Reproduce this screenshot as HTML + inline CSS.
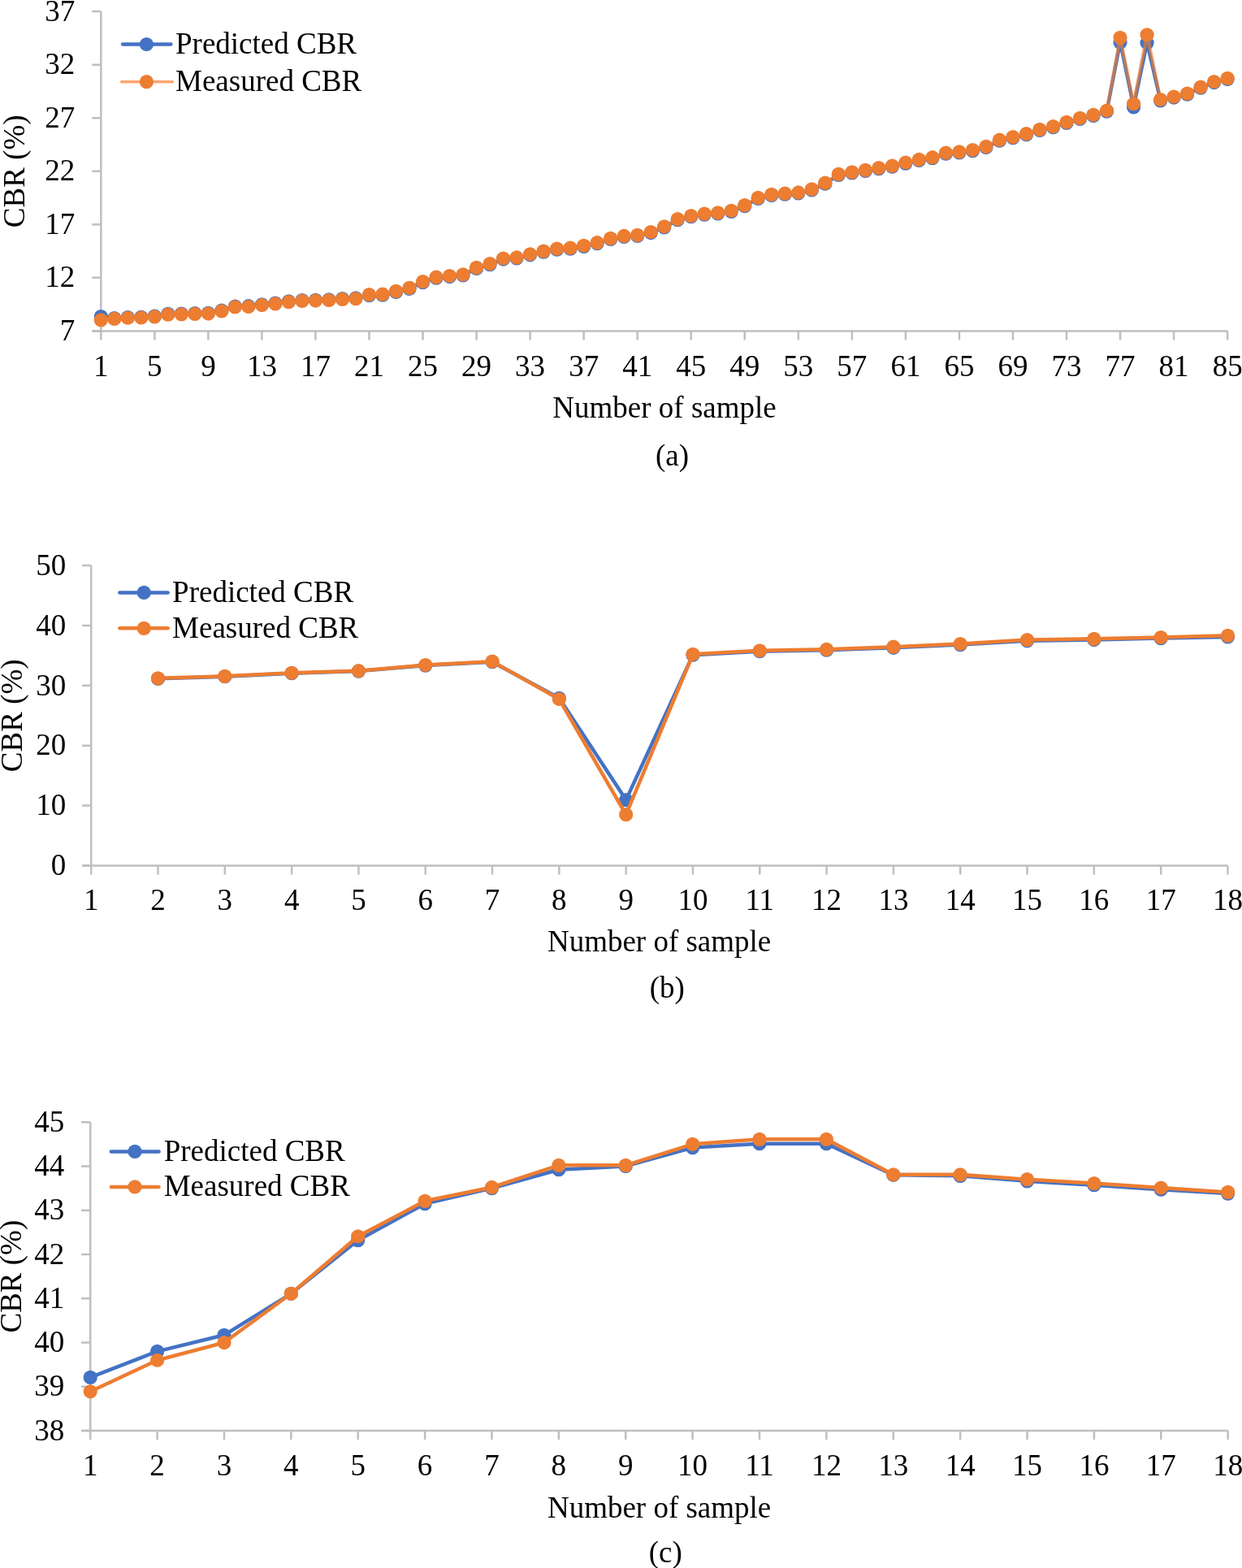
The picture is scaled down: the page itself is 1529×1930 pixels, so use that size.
<!DOCTYPE html>
<html><head><meta charset="utf-8"><title>CBR charts</title>
<style>html,body{margin:0;padding:0;background:#fff;}svg{display:block;}</style>
</head><body>
<svg width="1529" height="1930" viewBox="0 0 1529 1930">
<rect width="1529" height="1930" fill="#fff"/>
<g stroke="#BFBFBF" stroke-width="2.5" fill="none">
<path d="M124.3 14.1V407.4M113.3 407.4H1511.14"/>
<path d="M113.3 407.4H124.3M113.3 341.85H124.3M113.3 276.3H124.3M113.3 210.75H124.3M113.3 145.2H124.3M113.3 79.65H124.3M113.3 14.1H124.3M124.3 407.4V418.4M190.34 407.4V418.4M256.38 407.4V418.4M322.42 407.4V418.4M388.46 407.4V418.4M454.5 407.4V418.4M520.54 407.4V418.4M586.58 407.4V418.4M652.62 407.4V418.4M718.66 407.4V418.4M784.7 407.4V418.4M850.74 407.4V418.4M916.78 407.4V418.4M982.82 407.4V418.4M1048.86 407.4V418.4M1114.9 407.4V418.4M1180.94 407.4V418.4M1246.98 407.4V418.4M1313.02 407.4V418.4M1379.06 407.4V418.4M1445.1 407.4V418.4M1511.14 407.4V418.4"/>
</g>
<g font-family="'Liberation Serif','Times New Roman',serif" font-size="37" fill="#000">
<text x="92.3" y="418.9" text-anchor="end">7</text>
<text x="92.3" y="353.35" text-anchor="end">12</text>
<text x="92.3" y="287.8" text-anchor="end">17</text>
<text x="92.3" y="222.25" text-anchor="end">22</text>
<text x="92.3" y="156.7" text-anchor="end">27</text>
<text x="92.3" y="91.15" text-anchor="end">32</text>
<text x="92.3" y="25.6" text-anchor="end">37</text>
<text x="124.3" y="462.5" text-anchor="middle">1</text>
<text x="190.34" y="462.5" text-anchor="middle">5</text>
<text x="256.38" y="462.5" text-anchor="middle">9</text>
<text x="322.42" y="462.5" text-anchor="middle">13</text>
<text x="388.46" y="462.5" text-anchor="middle">17</text>
<text x="454.5" y="462.5" text-anchor="middle">21</text>
<text x="520.54" y="462.5" text-anchor="middle">25</text>
<text x="586.58" y="462.5" text-anchor="middle">29</text>
<text x="652.62" y="462.5" text-anchor="middle">33</text>
<text x="718.66" y="462.5" text-anchor="middle">37</text>
<text x="784.7" y="462.5" text-anchor="middle">41</text>
<text x="850.74" y="462.5" text-anchor="middle">45</text>
<text x="916.78" y="462.5" text-anchor="middle">49</text>
<text x="982.82" y="462.5" text-anchor="middle">53</text>
<text x="1048.86" y="462.5" text-anchor="middle">57</text>
<text x="1114.9" y="462.5" text-anchor="middle">61</text>
<text x="1180.94" y="462.5" text-anchor="middle">65</text>
<text x="1246.98" y="462.5" text-anchor="middle">69</text>
<text x="1313.02" y="462.5" text-anchor="middle">73</text>
<text x="1379.06" y="462.5" text-anchor="middle">77</text>
<text x="1445.1" y="462.5" text-anchor="middle">81</text>
<text x="1511.14" y="462.5" text-anchor="middle">85</text>
<text x="818" y="514" text-anchor="middle">Number of sample</text>
<text x="827.5" y="573.2" text-anchor="middle">(a)</text>
<text transform="translate(30.3 210.75) rotate(-90)" text-anchor="middle">CBR (%)</text>
</g>
<path d="M124.3 389.57 L140.81 391.67 L157.32 390.49 L173.83 390.23 L190.34 389.18 L206.85 386.42 L223.36 386.03 L239.87 385.64 L256.38 385.24 L272.89 382.1 L289.4 377.12 L305.91 376.72 L322.42 374.76 L338.93 373.18 L355.44 370.82 L371.95 369.51 L388.46 369.25 L404.97 368.73 L421.48 367.55 L437.99 366.76 L454.5 363.61 L471.01 363.22 L487.52 359.42 L504.03 355.35 L520.54 347.62 L537.05 342.24 L553.56 340.54 L570.07 338.97 L586.58 330.44 L603.09 325.59 L619.6 319.04 L636.11 317.99 L652.62 313.79 L669.13 310.12 L685.64 307.24 L702.15 306.19 L718.66 303.31 L735.17 299.64 L751.68 294.39 L768.19 291.51 L784.7 290.46 L801.21 286.53 L817.72 279.84 L834.23 270.66 L850.74 266.6 L867.25 264.11 L883.76 262.93 L900.27 260.31 L916.78 253.75 L933.29 244.44 L949.8 240.38 L966.31 239.2 L982.82 238.02 L999.33 233.95 L1015.84 226.22 L1032.35 215.47 L1048.86 212.98 L1065.37 210.49 L1081.88 207.6 L1098.39 205.11 L1114.9 201.05 L1131.41 197.38 L1147.92 194.76 L1164.43 189.25 L1180.94 187.94 L1197.45 185.58 L1213.96 181.38 L1230.47 173.26 L1246.98 169.72 L1263.49 165.65 L1280 160.41 L1296.51 156.74 L1313.02 151.36 L1329.53 146.38 L1346.04 142.32 L1362.55 137.07 L1379.06 52.12 L1395.57 131.83 L1412.08 52.77 L1428.59 123.96 L1445.1 120.03 L1461.61 116.23 L1478.12 108.1 L1494.63 101.54 L1511.14 97.35" fill="none" stroke="#4472C4" stroke-width="4.3" stroke-linejoin="round" stroke-linecap="round"/>
<g fill="#4472C4">
<circle cx="124.3" cy="389.57" r="8.6"/>
<circle cx="140.81" cy="391.67" r="8.6"/>
<circle cx="157.32" cy="390.49" r="8.6"/>
<circle cx="173.83" cy="390.23" r="8.6"/>
<circle cx="190.34" cy="389.18" r="8.6"/>
<circle cx="206.85" cy="386.42" r="8.6"/>
<circle cx="223.36" cy="386.03" r="8.6"/>
<circle cx="239.87" cy="385.64" r="8.6"/>
<circle cx="256.38" cy="385.24" r="8.6"/>
<circle cx="272.89" cy="382.1" r="8.6"/>
<circle cx="289.4" cy="377.12" r="8.6"/>
<circle cx="305.91" cy="376.72" r="8.6"/>
<circle cx="322.42" cy="374.76" r="8.6"/>
<circle cx="338.93" cy="373.18" r="8.6"/>
<circle cx="355.44" cy="370.82" r="8.6"/>
<circle cx="371.95" cy="369.51" r="8.6"/>
<circle cx="388.46" cy="369.25" r="8.6"/>
<circle cx="404.97" cy="368.73" r="8.6"/>
<circle cx="421.48" cy="367.55" r="8.6"/>
<circle cx="437.99" cy="366.76" r="8.6"/>
<circle cx="454.5" cy="363.61" r="8.6"/>
<circle cx="471.01" cy="363.22" r="8.6"/>
<circle cx="487.52" cy="359.42" r="8.6"/>
<circle cx="504.03" cy="355.35" r="8.6"/>
<circle cx="520.54" cy="347.62" r="8.6"/>
<circle cx="537.05" cy="342.24" r="8.6"/>
<circle cx="553.56" cy="340.54" r="8.6"/>
<circle cx="570.07" cy="338.97" r="8.6"/>
<circle cx="586.58" cy="330.44" r="8.6"/>
<circle cx="603.09" cy="325.59" r="8.6"/>
<circle cx="619.6" cy="319.04" r="8.6"/>
<circle cx="636.11" cy="317.99" r="8.6"/>
<circle cx="652.62" cy="313.79" r="8.6"/>
<circle cx="669.13" cy="310.12" r="8.6"/>
<circle cx="685.64" cy="307.24" r="8.6"/>
<circle cx="702.15" cy="306.19" r="8.6"/>
<circle cx="718.66" cy="303.31" r="8.6"/>
<circle cx="735.17" cy="299.64" r="8.6"/>
<circle cx="751.68" cy="294.39" r="8.6"/>
<circle cx="768.19" cy="291.51" r="8.6"/>
<circle cx="784.7" cy="290.46" r="8.6"/>
<circle cx="801.21" cy="286.53" r="8.6"/>
<circle cx="817.72" cy="279.84" r="8.6"/>
<circle cx="834.23" cy="270.66" r="8.6"/>
<circle cx="850.74" cy="266.6" r="8.6"/>
<circle cx="867.25" cy="264.11" r="8.6"/>
<circle cx="883.76" cy="262.93" r="8.6"/>
<circle cx="900.27" cy="260.31" r="8.6"/>
<circle cx="916.78" cy="253.75" r="8.6"/>
<circle cx="933.29" cy="244.44" r="8.6"/>
<circle cx="949.8" cy="240.38" r="8.6"/>
<circle cx="966.31" cy="239.2" r="8.6"/>
<circle cx="982.82" cy="238.02" r="8.6"/>
<circle cx="999.33" cy="233.95" r="8.6"/>
<circle cx="1015.84" cy="226.22" r="8.6"/>
<circle cx="1032.35" cy="215.47" r="8.6"/>
<circle cx="1048.86" cy="212.98" r="8.6"/>
<circle cx="1065.37" cy="210.49" r="8.6"/>
<circle cx="1081.88" cy="207.6" r="8.6"/>
<circle cx="1098.39" cy="205.11" r="8.6"/>
<circle cx="1114.9" cy="201.05" r="8.6"/>
<circle cx="1131.41" cy="197.38" r="8.6"/>
<circle cx="1147.92" cy="194.76" r="8.6"/>
<circle cx="1164.43" cy="189.25" r="8.6"/>
<circle cx="1180.94" cy="187.94" r="8.6"/>
<circle cx="1197.45" cy="185.58" r="8.6"/>
<circle cx="1213.96" cy="181.38" r="8.6"/>
<circle cx="1230.47" cy="173.26" r="8.6"/>
<circle cx="1246.98" cy="169.72" r="8.6"/>
<circle cx="1263.49" cy="165.65" r="8.6"/>
<circle cx="1280" cy="160.41" r="8.6"/>
<circle cx="1296.51" cy="156.74" r="8.6"/>
<circle cx="1313.02" cy="151.36" r="8.6"/>
<circle cx="1329.53" cy="146.38" r="8.6"/>
<circle cx="1346.04" cy="142.32" r="8.6"/>
<circle cx="1362.55" cy="137.07" r="8.6"/>
<circle cx="1379.06" cy="52.12" r="8.6"/>
<circle cx="1395.57" cy="131.83" r="8.6"/>
<circle cx="1412.08" cy="52.77" r="8.6"/>
<circle cx="1428.59" cy="123.96" r="8.6"/>
<circle cx="1445.1" cy="120.03" r="8.6"/>
<circle cx="1461.61" cy="116.23" r="8.6"/>
<circle cx="1478.12" cy="108.1" r="8.6"/>
<circle cx="1494.63" cy="101.54" r="8.6"/>
<circle cx="1511.14" cy="97.35" r="8.6"/>
</g>
<path d="M124.3 393.9 L140.81 392.45 L157.32 391.27 L173.83 391.01 L190.34 389.96 L206.85 387.21 L223.36 386.82 L239.87 386.42 L256.38 386.03 L272.89 382.88 L289.4 377.9 L305.91 377.51 L322.42 375.54 L338.93 373.97 L355.44 371.61 L371.95 370.3 L388.46 370.04 L404.97 369.51 L421.48 368.33 L437.99 367.55 L454.5 362.56 L471.01 362.17 L487.52 358.37 L504.03 354.3 L520.54 346.57 L537.05 341.19 L553.56 339.49 L570.07 337.92 L586.58 329.4 L603.09 324.54 L619.6 317.99 L636.11 316.94 L652.62 312.75 L669.13 309.07 L685.64 306.19 L702.15 305.14 L718.66 302.26 L735.17 298.59 L751.68 293.34 L768.19 290.46 L784.7 289.41 L801.21 285.48 L817.72 278.79 L834.23 269.61 L850.74 265.55 L867.25 263.06 L883.76 261.88 L900.27 259.26 L916.78 252.7 L933.29 243.39 L949.8 239.33 L966.31 238.15 L982.82 236.97 L999.33 232.91 L1015.84 225.17 L1032.35 214.42 L1048.86 211.93 L1065.37 209.44 L1081.88 206.55 L1098.39 204.06 L1114.9 200 L1131.41 196.33 L1147.92 193.71 L1164.43 188.2 L1180.94 186.89 L1197.45 184.53 L1213.96 180.33 L1230.47 172.21 L1246.98 168.67 L1263.49 164.6 L1280 159.36 L1296.51 155.69 L1313.02 150.31 L1329.53 145.33 L1346.04 141.27 L1362.55 136.02 L1379.06 46.35 L1395.57 127.76 L1412.08 42.81 L1428.59 122.52 L1445.1 118.98 L1461.61 115.18 L1478.12 107.05 L1494.63 100.49 L1511.14 96.3" fill="none" stroke="#ED7D31" stroke-width="4.3" stroke-linejoin="round" stroke-linecap="round" stroke-opacity="0.65"/>
<g fill="#ED7D31">
<circle cx="124.3" cy="393.9" r="8.6"/>
<circle cx="140.81" cy="392.45" r="8.6"/>
<circle cx="157.32" cy="391.27" r="8.6"/>
<circle cx="173.83" cy="391.01" r="8.6"/>
<circle cx="190.34" cy="389.96" r="8.6"/>
<circle cx="206.85" cy="387.21" r="8.6"/>
<circle cx="223.36" cy="386.82" r="8.6"/>
<circle cx="239.87" cy="386.42" r="8.6"/>
<circle cx="256.38" cy="386.03" r="8.6"/>
<circle cx="272.89" cy="382.88" r="8.6"/>
<circle cx="289.4" cy="377.9" r="8.6"/>
<circle cx="305.91" cy="377.51" r="8.6"/>
<circle cx="322.42" cy="375.54" r="8.6"/>
<circle cx="338.93" cy="373.97" r="8.6"/>
<circle cx="355.44" cy="371.61" r="8.6"/>
<circle cx="371.95" cy="370.3" r="8.6"/>
<circle cx="388.46" cy="370.04" r="8.6"/>
<circle cx="404.97" cy="369.51" r="8.6"/>
<circle cx="421.48" cy="368.33" r="8.6"/>
<circle cx="437.99" cy="367.55" r="8.6"/>
<circle cx="454.5" cy="362.56" r="8.6"/>
<circle cx="471.01" cy="362.17" r="8.6"/>
<circle cx="487.52" cy="358.37" r="8.6"/>
<circle cx="504.03" cy="354.3" r="8.6"/>
<circle cx="520.54" cy="346.57" r="8.6"/>
<circle cx="537.05" cy="341.19" r="8.6"/>
<circle cx="553.56" cy="339.49" r="8.6"/>
<circle cx="570.07" cy="337.92" r="8.6"/>
<circle cx="586.58" cy="329.4" r="8.6"/>
<circle cx="603.09" cy="324.54" r="8.6"/>
<circle cx="619.6" cy="317.99" r="8.6"/>
<circle cx="636.11" cy="316.94" r="8.6"/>
<circle cx="652.62" cy="312.75" r="8.6"/>
<circle cx="669.13" cy="309.07" r="8.6"/>
<circle cx="685.64" cy="306.19" r="8.6"/>
<circle cx="702.15" cy="305.14" r="8.6"/>
<circle cx="718.66" cy="302.26" r="8.6"/>
<circle cx="735.17" cy="298.59" r="8.6"/>
<circle cx="751.68" cy="293.34" r="8.6"/>
<circle cx="768.19" cy="290.46" r="8.6"/>
<circle cx="784.7" cy="289.41" r="8.6"/>
<circle cx="801.21" cy="285.48" r="8.6"/>
<circle cx="817.72" cy="278.79" r="8.6"/>
<circle cx="834.23" cy="269.61" r="8.6"/>
<circle cx="850.74" cy="265.55" r="8.6"/>
<circle cx="867.25" cy="263.06" r="8.6"/>
<circle cx="883.76" cy="261.88" r="8.6"/>
<circle cx="900.27" cy="259.26" r="8.6"/>
<circle cx="916.78" cy="252.7" r="8.6"/>
<circle cx="933.29" cy="243.39" r="8.6"/>
<circle cx="949.8" cy="239.33" r="8.6"/>
<circle cx="966.31" cy="238.15" r="8.6"/>
<circle cx="982.82" cy="236.97" r="8.6"/>
<circle cx="999.33" cy="232.91" r="8.6"/>
<circle cx="1015.84" cy="225.17" r="8.6"/>
<circle cx="1032.35" cy="214.42" r="8.6"/>
<circle cx="1048.86" cy="211.93" r="8.6"/>
<circle cx="1065.37" cy="209.44" r="8.6"/>
<circle cx="1081.88" cy="206.55" r="8.6"/>
<circle cx="1098.39" cy="204.06" r="8.6"/>
<circle cx="1114.9" cy="200" r="8.6"/>
<circle cx="1131.41" cy="196.33" r="8.6"/>
<circle cx="1147.92" cy="193.71" r="8.6"/>
<circle cx="1164.43" cy="188.2" r="8.6"/>
<circle cx="1180.94" cy="186.89" r="8.6"/>
<circle cx="1197.45" cy="184.53" r="8.6"/>
<circle cx="1213.96" cy="180.33" r="8.6"/>
<circle cx="1230.47" cy="172.21" r="8.6"/>
<circle cx="1246.98" cy="168.67" r="8.6"/>
<circle cx="1263.49" cy="164.6" r="8.6"/>
<circle cx="1280" cy="159.36" r="8.6"/>
<circle cx="1296.51" cy="155.69" r="8.6"/>
<circle cx="1313.02" cy="150.31" r="8.6"/>
<circle cx="1329.53" cy="145.33" r="8.6"/>
<circle cx="1346.04" cy="141.27" r="8.6"/>
<circle cx="1362.55" cy="136.02" r="8.6"/>
<circle cx="1379.06" cy="46.35" r="8.6"/>
<circle cx="1395.57" cy="127.76" r="8.6"/>
<circle cx="1412.08" cy="42.81" r="8.6"/>
<circle cx="1428.59" cy="122.52" r="8.6"/>
<circle cx="1445.1" cy="118.98" r="8.6"/>
<circle cx="1461.61" cy="115.18" r="8.6"/>
<circle cx="1478.12" cy="107.05" r="8.6"/>
<circle cx="1494.63" cy="100.49" r="8.6"/>
<circle cx="1511.14" cy="96.3" r="8.6"/>
</g>
<line x1="151" y1="54.5" x2="210.5" y2="54.5" stroke="#4472C4" stroke-width="4.3" stroke-linecap="round"/>
<circle cx="180.4" cy="54.5" r="8.6" fill="#4472C4"/>
<text x="216" y="65.7" font-family="'Liberation Serif','Times New Roman',serif" font-size="37">Predicted CBR</text>
<line x1="148.3" y1="102.5" x2="213.7" y2="102.5" stroke="#FFDCC6" stroke-width="1.6"/>
<line x1="148.3" y1="100.5" x2="213.7" y2="100.5" stroke="#FCA46E" stroke-width="3"/>
<circle cx="180.4" cy="100.6" r="8.6" fill="#ED7D31"/>
<text x="216" y="111.8" font-family="'Liberation Serif','Times New Roman',serif" font-size="37">Measured CBR</text>
<g stroke="#BFBFBF" stroke-width="2.5" fill="none">
<path d="M112.2 696.1V1065.4M101.2 1065.4H1511.47"/>
<path d="M101.2 1065.4H112.2M101.2 991.54H112.2M101.2 917.68H112.2M101.2 843.82H112.2M101.2 769.96H112.2M101.2 696.1H112.2M112.2 1065.4V1076.4M194.51 1065.4V1076.4M276.82 1065.4V1076.4M359.13 1065.4V1076.4M441.44 1065.4V1076.4M523.75 1065.4V1076.4M606.06 1065.4V1076.4M688.37 1065.4V1076.4M770.68 1065.4V1076.4M852.99 1065.4V1076.4M935.3 1065.4V1076.4M1017.61 1065.4V1076.4M1099.92 1065.4V1076.4M1182.23 1065.4V1076.4M1264.54 1065.4V1076.4M1346.85 1065.4V1076.4M1429.16 1065.4V1076.4M1511.47 1065.4V1076.4"/>
</g>
<g font-family="'Liberation Serif','Times New Roman',serif" font-size="37" fill="#000">
<text x="81.3" y="1077.2" text-anchor="end">0</text>
<text x="81.3" y="1003.34" text-anchor="end">10</text>
<text x="81.3" y="929.48" text-anchor="end">20</text>
<text x="81.3" y="855.62" text-anchor="end">30</text>
<text x="81.3" y="781.76" text-anchor="end">40</text>
<text x="81.3" y="707.9" text-anchor="end">50</text>
<text x="112.2" y="1120.2" text-anchor="middle">1</text>
<text x="194.51" y="1120.2" text-anchor="middle">2</text>
<text x="276.82" y="1120.2" text-anchor="middle">3</text>
<text x="359.13" y="1120.2" text-anchor="middle">4</text>
<text x="441.44" y="1120.2" text-anchor="middle">5</text>
<text x="523.75" y="1120.2" text-anchor="middle">6</text>
<text x="606.06" y="1120.2" text-anchor="middle">7</text>
<text x="688.37" y="1120.2" text-anchor="middle">8</text>
<text x="770.68" y="1120.2" text-anchor="middle">9</text>
<text x="852.99" y="1120.2" text-anchor="middle">10</text>
<text x="935.3" y="1120.2" text-anchor="middle">11</text>
<text x="1017.61" y="1120.2" text-anchor="middle">12</text>
<text x="1099.92" y="1120.2" text-anchor="middle">13</text>
<text x="1182.23" y="1120.2" text-anchor="middle">14</text>
<text x="1264.54" y="1120.2" text-anchor="middle">15</text>
<text x="1346.85" y="1120.2" text-anchor="middle">16</text>
<text x="1429.16" y="1120.2" text-anchor="middle">17</text>
<text x="1511.47" y="1120.2" text-anchor="middle">18</text>
<text x="811.6" y="1170.6" text-anchor="middle">Number of sample</text>
<text x="821.25" y="1228.1" text-anchor="middle">(b)</text>
<text transform="translate(27.3 880.75) rotate(-90)" text-anchor="middle">CBR (%)</text>
</g>
<path d="M194.51 835.33 L276.82 832.74 L359.13 828.68 L441.44 826.09 L523.75 819.08 L606.06 814.65 L688.37 859.33 L770.68 984.6 L852.99 806.15 L935.3 801.72 L1017.61 800.24 L1099.92 797.29 L1182.23 793.6 L1264.54 788.79 L1346.85 787.54 L1429.16 785.62 L1511.47 783.99" fill="none" stroke="#4472C4" stroke-width="4.5" stroke-linejoin="round" stroke-linecap="round"/>
<g fill="#4472C4">
<circle cx="194.51" cy="835.33" r="8.6"/>
<circle cx="276.82" cy="832.74" r="8.6"/>
<circle cx="359.13" cy="828.68" r="8.6"/>
<circle cx="441.44" cy="826.09" r="8.6"/>
<circle cx="523.75" cy="819.08" r="8.6"/>
<circle cx="606.06" cy="814.65" r="8.6"/>
<circle cx="688.37" cy="859.33" r="8.6"/>
<circle cx="770.68" cy="984.6" r="8.6"/>
<circle cx="852.99" cy="806.15" r="8.6"/>
<circle cx="935.3" cy="801.72" r="8.6"/>
<circle cx="1017.61" cy="800.24" r="8.6"/>
<circle cx="1099.92" cy="797.29" r="8.6"/>
<circle cx="1182.23" cy="793.6" r="8.6"/>
<circle cx="1264.54" cy="788.79" r="8.6"/>
<circle cx="1346.85" cy="787.54" r="8.6"/>
<circle cx="1429.16" cy="785.62" r="8.6"/>
<circle cx="1511.47" cy="783.99" r="8.6"/>
</g>
<path d="M194.51 834.81 L276.82 832.3 L359.13 828.24 L441.44 825.72 L523.75 818.49 L606.06 814.13 L688.37 860.51 L770.68 1002.69 L852.99 805.27 L935.3 800.76 L1017.61 799.28 L1099.92 796.18 L1182.23 792.49 L1264.54 787.54 L1346.85 786.36 L1429.16 784.51 L1511.47 782.37" fill="none" stroke="#ED7D31" stroke-width="4.5" stroke-linejoin="round" stroke-linecap="round"/>
<g fill="#ED7D31">
<circle cx="194.51" cy="834.81" r="8.6"/>
<circle cx="276.82" cy="832.3" r="8.6"/>
<circle cx="359.13" cy="828.24" r="8.6"/>
<circle cx="441.44" cy="825.72" r="8.6"/>
<circle cx="523.75" cy="818.49" r="8.6"/>
<circle cx="606.06" cy="814.13" r="8.6"/>
<circle cx="688.37" cy="860.51" r="8.6"/>
<circle cx="770.68" cy="1002.69" r="8.6"/>
<circle cx="852.99" cy="805.27" r="8.6"/>
<circle cx="935.3" cy="800.76" r="8.6"/>
<circle cx="1017.61" cy="799.28" r="8.6"/>
<circle cx="1099.92" cy="796.18" r="8.6"/>
<circle cx="1182.23" cy="792.49" r="8.6"/>
<circle cx="1264.54" cy="787.54" r="8.6"/>
<circle cx="1346.85" cy="786.36" r="8.6"/>
<circle cx="1429.16" cy="784.51" r="8.6"/>
<circle cx="1511.47" cy="782.37" r="8.6"/>
</g>
<line x1="147.35" y1="729.4" x2="206.65" y2="729.4" stroke="#4472C4" stroke-width="4.5" stroke-linecap="round"/>
<circle cx="177.2" cy="729.4" r="8.6" fill="#4472C4"/>
<text x="212.1" y="740.7" font-family="'Liberation Serif','Times New Roman',serif" font-size="37">Predicted CBR</text>
<line x1="147.35" y1="773.3" x2="206.65" y2="773.3" stroke="#ED7D31" stroke-width="4.5" stroke-linecap="round"/>
<circle cx="177.2" cy="773.3" r="8.6" fill="#ED7D31"/>
<text x="212.1" y="784.6" font-family="'Liberation Serif','Times New Roman',serif" font-size="37">Measured CBR</text>
<g stroke="#BFBFBF" stroke-width="2.5" fill="none">
<path d="M111.2 1381.14V1761.1M100.2 1761.1H1511.66"/>
<path d="M100.2 1761.1H111.2M100.2 1706.82H111.2M100.2 1652.54H111.2M100.2 1598.26H111.2M100.2 1543.98H111.2M100.2 1489.7H111.2M100.2 1435.42H111.2M100.2 1381.14H111.2M111.2 1761.1V1772.1M193.58 1761.1V1772.1M275.96 1761.1V1772.1M358.34 1761.1V1772.1M440.72 1761.1V1772.1M523.1 1761.1V1772.1M605.48 1761.1V1772.1M687.86 1761.1V1772.1M770.24 1761.1V1772.1M852.62 1761.1V1772.1M935 1761.1V1772.1M1017.38 1761.1V1772.1M1099.76 1761.1V1772.1M1182.14 1761.1V1772.1M1264.52 1761.1V1772.1M1346.9 1761.1V1772.1M1429.28 1761.1V1772.1M1511.66 1761.1V1772.1"/>
</g>
<g font-family="'Liberation Serif','Times New Roman',serif" font-size="37" fill="#000">
<text x="79.2" y="1772.7" text-anchor="end">38</text>
<text x="79.2" y="1718.42" text-anchor="end">39</text>
<text x="79.2" y="1664.14" text-anchor="end">40</text>
<text x="79.2" y="1609.86" text-anchor="end">41</text>
<text x="79.2" y="1555.58" text-anchor="end">42</text>
<text x="79.2" y="1501.3" text-anchor="end">43</text>
<text x="79.2" y="1447.02" text-anchor="end">44</text>
<text x="79.2" y="1392.74" text-anchor="end">45</text>
<text x="111.2" y="1816.2" text-anchor="middle">1</text>
<text x="193.58" y="1816.2" text-anchor="middle">2</text>
<text x="275.96" y="1816.2" text-anchor="middle">3</text>
<text x="358.34" y="1816.2" text-anchor="middle">4</text>
<text x="440.72" y="1816.2" text-anchor="middle">5</text>
<text x="523.1" y="1816.2" text-anchor="middle">6</text>
<text x="605.48" y="1816.2" text-anchor="middle">7</text>
<text x="687.86" y="1816.2" text-anchor="middle">8</text>
<text x="770.24" y="1816.2" text-anchor="middle">9</text>
<text x="852.62" y="1816.2" text-anchor="middle">10</text>
<text x="935" y="1816.2" text-anchor="middle">11</text>
<text x="1017.38" y="1816.2" text-anchor="middle">12</text>
<text x="1099.76" y="1816.2" text-anchor="middle">13</text>
<text x="1182.14" y="1816.2" text-anchor="middle">14</text>
<text x="1264.52" y="1816.2" text-anchor="middle">15</text>
<text x="1346.9" y="1816.2" text-anchor="middle">16</text>
<text x="1429.28" y="1816.2" text-anchor="middle">17</text>
<text x="1511.66" y="1816.2" text-anchor="middle">18</text>
<text x="811.6" y="1868.3" text-anchor="middle">Number of sample</text>
<text x="819.3" y="1923.4" text-anchor="middle">(c)</text>
<text transform="translate(26 1571.12) rotate(-90)" text-anchor="middle">CBR (%)</text>
</g>
<path d="M111.2 1695.42 L193.58 1663.4 L275.96 1643.31 L358.34 1592.29 L440.72 1526.61 L523.1 1481.56 L605.48 1462.56 L687.86 1439.76 L770.24 1435.42 L852.62 1412.62 L935 1407.74 L1017.38 1407.74 L1099.76 1446.28 L1182.14 1447.36 L1264.52 1453.88 L1346.9 1458.76 L1429.28 1464.19 L1511.66 1469.07" fill="none" stroke="#4472C4" stroke-width="4.5" stroke-linejoin="round" stroke-linecap="round"/>
<g fill="#4472C4">
<circle cx="111.2" cy="1695.42" r="8.6"/>
<circle cx="193.58" cy="1663.4" r="8.6"/>
<circle cx="275.96" cy="1643.31" r="8.6"/>
<circle cx="358.34" cy="1592.29" r="8.6"/>
<circle cx="440.72" cy="1526.61" r="8.6"/>
<circle cx="523.1" cy="1481.56" r="8.6"/>
<circle cx="605.48" cy="1462.56" r="8.6"/>
<circle cx="687.86" cy="1439.76" r="8.6"/>
<circle cx="770.24" cy="1435.42" r="8.6"/>
<circle cx="852.62" cy="1412.62" r="8.6"/>
<circle cx="935" cy="1407.74" r="8.6"/>
<circle cx="1017.38" cy="1407.74" r="8.6"/>
<circle cx="1099.76" cy="1446.28" r="8.6"/>
<circle cx="1182.14" cy="1447.36" r="8.6"/>
<circle cx="1264.52" cy="1453.88" r="8.6"/>
<circle cx="1346.9" cy="1458.76" r="8.6"/>
<circle cx="1429.28" cy="1464.19" r="8.6"/>
<circle cx="1511.66" cy="1469.07" r="8.6"/>
</g>
<path d="M111.2 1712.79 L193.58 1674.25 L275.96 1652.54 L358.34 1592.29 L440.72 1521.73 L523.1 1478.3 L605.48 1461.47 L687.86 1434.33 L770.24 1434.33 L852.62 1408.28 L935 1402.31 L1017.38 1402.31 L1099.76 1445.73 L1182.14 1445.73 L1264.52 1451.7 L1346.9 1456.59 L1429.28 1462.02 L1511.66 1467.45" fill="none" stroke="#ED7D31" stroke-width="4.5" stroke-linejoin="round" stroke-linecap="round"/>
<g fill="#ED7D31">
<circle cx="111.2" cy="1712.79" r="8.6"/>
<circle cx="193.58" cy="1674.25" r="8.6"/>
<circle cx="275.96" cy="1652.54" r="8.6"/>
<circle cx="358.34" cy="1592.29" r="8.6"/>
<circle cx="440.72" cy="1521.73" r="8.6"/>
<circle cx="523.1" cy="1478.3" r="8.6"/>
<circle cx="605.48" cy="1461.47" r="8.6"/>
<circle cx="687.86" cy="1434.33" r="8.6"/>
<circle cx="770.24" cy="1434.33" r="8.6"/>
<circle cx="852.62" cy="1408.28" r="8.6"/>
<circle cx="935" cy="1402.31" r="8.6"/>
<circle cx="1017.38" cy="1402.31" r="8.6"/>
<circle cx="1099.76" cy="1445.73" r="8.6"/>
<circle cx="1182.14" cy="1445.73" r="8.6"/>
<circle cx="1264.52" cy="1451.7" r="8.6"/>
<circle cx="1346.9" cy="1456.59" r="8.6"/>
<circle cx="1429.28" cy="1462.02" r="8.6"/>
<circle cx="1511.66" cy="1467.45" r="8.6"/>
</g>
<line x1="136.85" y1="1417.4" x2="195.55" y2="1417.4" stroke="#4472C4" stroke-width="4.5" stroke-linecap="round"/>
<circle cx="166" cy="1417.4" r="8.6" fill="#4472C4"/>
<text x="201.7" y="1428.7" font-family="'Liberation Serif','Times New Roman',serif" font-size="37">Predicted CBR</text>
<line x1="136.85" y1="1460.9" x2="195.55" y2="1460.9" stroke="#ED7D31" stroke-width="4.5" stroke-linecap="round"/>
<circle cx="166" cy="1460.9" r="8.6" fill="#ED7D31"/>
<text x="201.7" y="1472.2" font-family="'Liberation Serif','Times New Roman',serif" font-size="37">Measured CBR</text>
</svg>
</body></html>
